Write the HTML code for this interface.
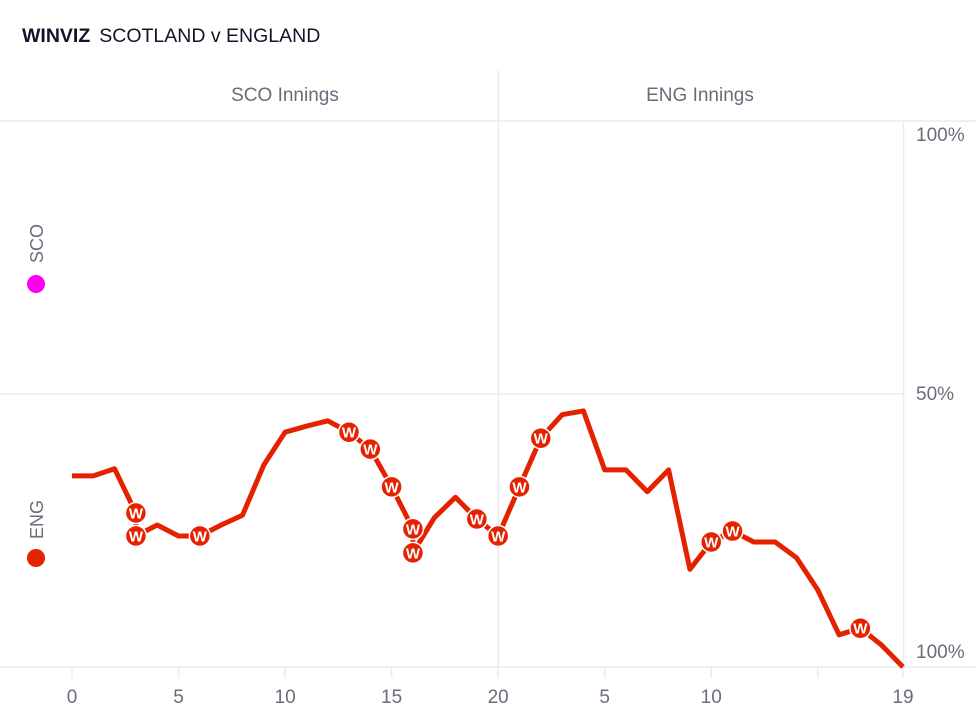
<!DOCTYPE html>
<html><head><meta charset="utf-8"><style>
html,body{margin:0;padding:0;background:#fff;}
body{width:976px;height:719px;overflow:hidden;font-family:"Liberation Sans",sans-serif;}
svg text{font-family:"Liberation Sans",sans-serif;}
</style></head><body>
<svg id="chart" width="976" height="719" viewBox="0 0 976 719" xmlns="http://www.w3.org/2000/svg">
<text x="22" y="42" font-size="19.5" fill="#141428"><tspan font-weight="bold">WINVIZ</tspan><tspan dx="9">SCOTLAND v ENGLAND</tspan></text>
<text x="285" y="101" font-size="19" fill="#6b6b7b" text-anchor="middle">SCO Innings</text>
<text x="700" y="101" font-size="19" fill="#6b6b7b" text-anchor="middle">ENG Innings</text>
<line x1="498.5" y1="70" x2="498.5" y2="667" stroke="#ececef" stroke-width="1.5"/>
<line x1="903.5" y1="121" x2="903.5" y2="667" stroke="#ececef" stroke-width="1.5"/>
<line x1="0" y1="121" x2="976" y2="121" stroke="#ececef" stroke-width="1.5"/>
<line x1="0" y1="394" x2="903" y2="394" stroke="#ececef" stroke-width="1.5"/>
<line x1="0" y1="667" x2="976" y2="667" stroke="#ececef" stroke-width="1.5"/>
<text x="916" y="141" font-size="19" fill="#6b6b7b">100%</text>
<text x="916" y="400" font-size="19" fill="#6b6b7b">50%</text>
<text x="916" y="658" font-size="19" fill="#6b6b7b">100%</text>
<g>
<text transform="translate(43,263) rotate(-90)" font-size="18" fill="#6b6b7b">SCO</text>
<circle cx="36" cy="284" r="9" fill="#ff00ee"/>
</g>
<g>
<text transform="translate(43,539) rotate(-90)" font-size="18" fill="#6b6b7b">ENG</text>
<circle cx="36" cy="558" r="9" fill="#e52200"/>
</g>
<g id="xaxis"></g>
<g id="series"></g>
</svg>
<script>
// Continuous over index: 0-20 SCO innings, 20-39 ENG innings
const overs = [0,1,2,3,3,4,5,6,7,8,9,10,11,12,13,14,15,16,16,17,18,19,20,21,22,23,24,25,26,27,28,29,30,31,32,33,34,35,36,37,38,39];
const engWin = [65,65,63.7,71.8,76,74,76,76,74,72.2,63,57,55.9,54.9,57,60.1,67,74.7,79.1,72.7,68.9,72.9,76,67,58.1,53.8,53.1,63.9,63.9,67.9,63.9,82.1,77.1,75.1,77.1,77.1,80,85.9,94.1,92.9,96,100];
const wickets = [0,0,0,1,1,0,0,1,0,0,0,0,0,0,1,1,1,1,1,0,0,1,1,1,1,0,0,0,0,0,0,0,1,1,0,0,0,0,0,1,0,0];
const tickOvers = [0,5,10,15,20,25,30,35,39];
const tickLabels = ["0","5","10","15","20","5","10","","19"];

const NS = "http://www.w3.org/2000/svg";
const X0 = 72, PX = (903 - 72) / 39;
const xScale = o => X0 + o * PX;
const yScale = p => 121 + (p / 100) * 546;

const ax = document.getElementById('xaxis');
tickOvers.forEach((t, i) => {
  const ln = document.createElementNS(NS, 'line');
  
  
  ln.setAttribute('x1', xScale(t)); ln.setAttribute('x2', xScale(t));
  ln.setAttribute('y1', 667); ln.setAttribute('y2', 678);
  ln.setAttribute('stroke', '#ececef'); ln.setAttribute('stroke-width', '1.5');
  ax.appendChild(ln);
  if (tickLabels[i]) {
    const tx = document.createElementNS(NS, 'text');
    
    
    tx.setAttribute('x', xScale(t)); tx.setAttribute('y', 703);
    tx.setAttribute('text-anchor', 'middle'); tx.setAttribute('font-size', '19'); tx.setAttribute('fill', '#6b6b7b');
    tx.textContent = tickLabels[i];
    ax.appendChild(tx);
  }
});

const g = document.getElementById('series');
const path = document.createElementNS(NS, 'path');


path.setAttribute('d', overs.map((o, i) => (i ? 'L' : 'M') + xScale(o).toFixed(1) + ' ' + yScale(engWin[i]).toFixed(1)).join(' '));
path.setAttribute('fill', 'none'); path.setAttribute('stroke', '#e52200');
path.setAttribute('stroke-width', '5'); path.setAttribute('stroke-linejoin', 'round');
g.appendChild(path);

overs.forEach((o, i) => {
  if (!wickets[i]) return;
  const m = document.createElementNS(NS, 'g');
  
  
  const c = document.createElementNS(NS, 'circle');
  c.setAttribute('cx', xScale(o)); c.setAttribute('cy', yScale(engWin[i])); c.setAttribute('r', 10.5);
  c.setAttribute('fill', '#e52200'); c.setAttribute('stroke', '#fff'); c.setAttribute('stroke-width', '1.5');
  m.appendChild(c);
  const t = document.createElementNS(NS, 'text');
  t.setAttribute('x', xScale(o)); t.setAttribute('y', yScale(engWin[i]) + 5.5);
  t.setAttribute('text-anchor', 'middle'); t.setAttribute('font-size', '15'); t.setAttribute('font-weight', 'bold'); t.setAttribute('fill', '#fff');
  t.textContent = 'W';
  m.appendChild(t);
  g.appendChild(m);
});
</script>
</body></html>
